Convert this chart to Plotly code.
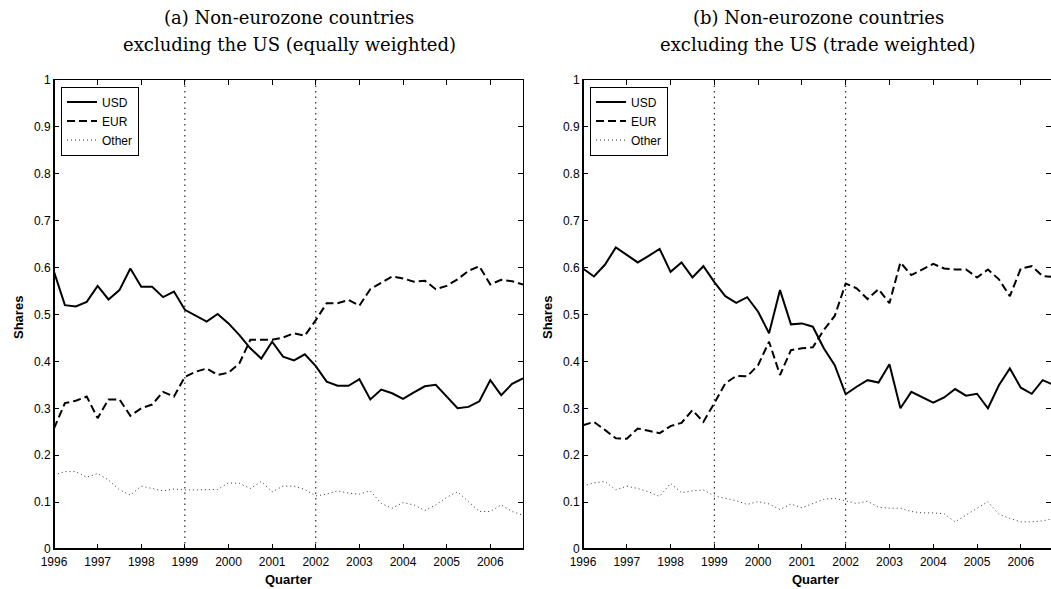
import plotly.graph_objects as go

# ---------------- data ----------------
quarters = [1996 + q / 4 for q in range(44)]   # 1996Q1 ... 2006Q4
year_ticks = list(range(1996, 2007))
event_years = [1999, 2002]

usd_a = [0.591, 0.520, 0.517, 0.527, 0.561, 0.532, 0.552, 0.598, 0.559, 0.559, 0.537, 0.549,
         0.510, 0.497, 0.485, 0.501, 0.481, 0.456, 0.428, 0.406, 0.442, 0.410, 0.402, 0.415,
         0.390, 0.357, 0.348, 0.348, 0.362, 0.319, 0.340, 0.332, 0.320, 0.334, 0.347, 0.350,
         0.326, 0.300, 0.303, 0.315, 0.360, 0.328, 0.352, 0.364]
eur_a = [0.257, 0.311, 0.316, 0.325, 0.279, 0.319, 0.319, 0.284, 0.300, 0.308, 0.335, 0.325,
         0.367, 0.378, 0.385, 0.371, 0.376, 0.396, 0.446, 0.446, 0.446, 0.451, 0.460, 0.455,
         0.488, 0.524, 0.524, 0.531, 0.519, 0.554, 0.568, 0.581, 0.577, 0.570, 0.572, 0.554,
         0.561, 0.575, 0.593, 0.603, 0.564, 0.574, 0.571, 0.564]
other_a = [0.158, 0.165, 0.165, 0.153, 0.161, 0.147, 0.126, 0.115, 0.134, 0.129, 0.124, 0.128,
           0.126, 0.126, 0.126, 0.127, 0.141, 0.140, 0.129, 0.144, 0.122, 0.134, 0.134, 0.127,
           0.113, 0.117, 0.124, 0.119, 0.117, 0.124, 0.097, 0.087, 0.099, 0.094, 0.082, 0.094,
           0.110, 0.122, 0.101, 0.080, 0.080, 0.094, 0.080, 0.072]

usd_b = [0.598, 0.581, 0.606, 0.643, 0.627, 0.611, 0.625, 0.640, 0.591, 0.611, 0.579, 0.603,
         0.569, 0.539, 0.525, 0.537, 0.506, 0.460, 0.552, 0.479, 0.481, 0.474, 0.428, 0.392,
         0.330, 0.346, 0.360, 0.355, 0.394, 0.300, 0.335, 0.323, 0.312, 0.323, 0.341, 0.327,
         0.331, 0.300, 0.349, 0.385, 0.344, 0.331, 0.360, 0.350]
eur_b = [0.264, 0.271, 0.254, 0.236, 0.235, 0.257, 0.252, 0.247, 0.262, 0.269, 0.296, 0.271,
         0.311, 0.353, 0.369, 0.368, 0.392, 0.442, 0.371, 0.424, 0.428, 0.430, 0.467, 0.497,
         0.566, 0.556, 0.533, 0.554, 0.524, 0.611, 0.584, 0.596, 0.608, 0.598, 0.596, 0.596,
         0.579, 0.596, 0.575, 0.539, 0.598, 0.603, 0.582, 0.580]
other_b = [0.134, 0.141, 0.144, 0.126, 0.134, 0.129, 0.122, 0.112, 0.140, 0.120, 0.124, 0.126,
           0.113, 0.108, 0.103, 0.095, 0.101, 0.096, 0.084, 0.096, 0.088, 0.097, 0.106, 0.108,
           0.102, 0.097, 0.102, 0.089, 0.087, 0.087, 0.080, 0.077, 0.077, 0.075, 0.058, 0.072,
           0.087, 0.101, 0.074, 0.065, 0.058, 0.058, 0.060, 0.065]

series_names = ["USD", "EUR", "Other"]
titles_a = ["(a) Non-eurozone countries", "excluding the US (equally weighted)"]
titles_b = ["(b) Non-eurozone countries", "excluding the US (trade weighted)"]

# ---------------- figure ----------------
styles = [dict(color="black", width=2, dash="solid"),
          dict(color="black", width=2, dash="8px,4px"),
          dict(color="#333333", width=1, dash="1px,3px")]

fig = go.Figure()
for panel, (xa, ya, leg, vals) in enumerate([
        ("x", "y", "legend", [usd_a, eur_a, other_a]),
        ("x2", "y2", "legend2", [usd_b, eur_b, other_b])]):
    for name, v, st in zip(series_names, vals, styles):
        fig.add_trace(go.Scatter(x=quarters, y=v, mode="lines", name=name,
                                 line=st, xaxis=xa, yaxis=ya, legend=leg))

W, H = 1051, 589
ml, mr, mt, mb = 54, 0, 80, 40
pw = W - ml - mr

tickfont = dict(family="Liberation Sans, Arial, sans-serif", size=12, color="black")
common_x = dict(tickvals=year_ticks, ticktext=[str(y) for y in year_ticks],
                ticks="inside", ticklen=5, tickwidth=1, tickcolor="black",
                showline=True, linecolor="black", linewidth=1, mirror="ticks",
                showgrid=False, zeroline=False, tickfont=tickfont, ticklabelstandoff=2)
common_y = dict(range=[0, 1], tick0=0, dtick=0.1,
                ticks="inside", ticklen=5, tickwidth=1, tickcolor="black",
                showline=True, linecolor="black", linewidth=1, mirror="ticks",
                showgrid=False, zeroline=False, tickfont=tickfont)

legend_font = dict(family="Liberation Sans, Arial, sans-serif", size=12, color="black")
fig.update_layout(
    width=W, height=H,
    margin=dict(l=ml, r=mr, t=mt, b=mb),
    plot_bgcolor="white", paper_bgcolor="white",
    xaxis=dict(domain=[0, 469 / pw], range=[1996, 2006.75], anchor="y", **common_x),
    yaxis=dict(domain=[0, 1], anchor="x", **common_y),
    xaxis2=dict(domain=[529 / pw, 1], range=[1996, 2006.69], anchor="y2", **common_x),
    yaxis2=dict(domain=[0, 1], anchor="x2", **common_y),
    legend=dict(x=(61 - ml) / pw, y=0.986, xanchor="left", yanchor="top",
                bordercolor="black", borderwidth=1, bgcolor="white",
                font=legend_font, tracegroupgap=0),
    legend2=dict(x=(590 - ml) / pw, y=0.986, xanchor="left", yanchor="top",
                 bordercolor="black", borderwidth=1, bgcolor="white",
                 font=legend_font, tracegroupgap=0),
    showlegend=True,
)

shapes = []
for xr, yr in [("x", "y"), ("x2", "y2")]:
    # heavier left and bottom axis lines
    shapes.append(dict(type="line", xref=xr + " domain", yref=yr + " domain",
                       x0=0, x1=0, y0=0, y1=1, line=dict(color="black", width=2), layer="above"))
    shapes.append(dict(type="line", xref=xr + " domain", yref=yr + " domain",
                       x0=0, x1=1, y0=0, y1=0, line=dict(color="black", width=2), layer="above"))
    for ey in event_years:
        shapes.append(dict(type="line", xref=xr, yref=yr + " domain",
                           x0=ey, x1=ey, y0=0, y1=1,
                           line=dict(color="black", width=1, dash="1.5px,4px"), layer="below"))
fig.update_layout(shapes=shapes)

serif = dict(family="DejaVu Serif, Liberation Serif, serif", size=18, color="black")
label_font = dict(family="Liberation Sans, Arial, sans-serif", size=13, color="black")
ann = []
for cx, lines in [(289, titles_a), (818, titles_b)]:
    for yy, txt in zip([17, 44], lines):
        ann.append(dict(text=txt, x=cx, y=yy, showarrow=False,
                        xanchor="center", yanchor="middle", font=serif))
for cx in [288, 815]:
    ann.append(dict(text="<b>Quarter</b>", x=cx, y=579, showarrow=False,
                    xanchor="center", yanchor="middle", font=label_font))
for cx in [18, 547]:
    ann.append(dict(text="<b>Shares</b>", x=cx, y=318, showarrow=False,
                    xanchor="center", yanchor="middle", textangle=-90, font=label_font))
# convert pixel positions to paper coordinates (relative to the plotting area)
for a in ann:
    a["xref"] = "paper"
    a["yref"] = "paper"
    a["x"] = (a["x"] - ml) / pw
    a["y"] = (H - a["y"] - mb) / (H - mt - mb)
fig.update_layout(annotations=ann)

fig.write_html("out.html", config={"displayModeBar": False},
               post_script="document.body.style.margin='0px';")
